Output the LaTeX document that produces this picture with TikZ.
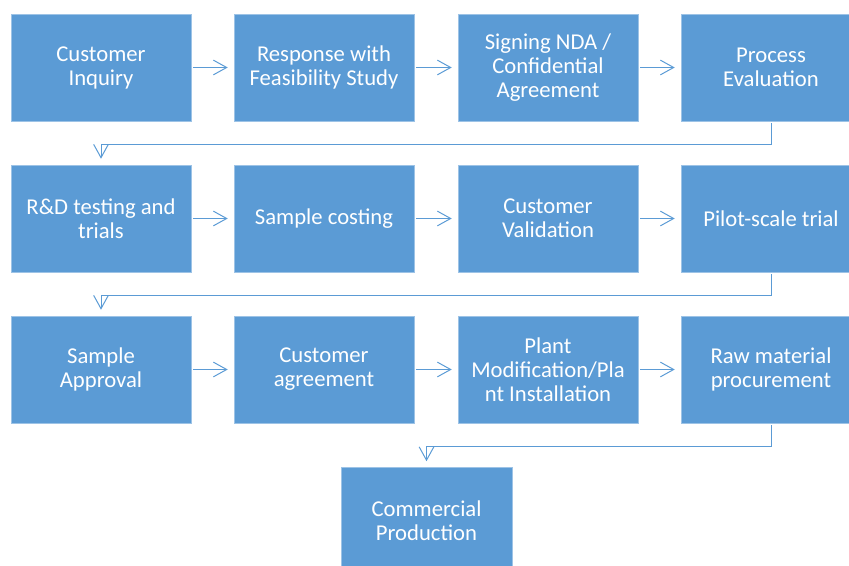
\documentclass[tikz,border=0pt]{standalone}
\usepackage{fontspec}
\setmainfont{Carlito}
\usetikzlibrary{arrows.meta}
\definecolor{boxblue}{HTML}{5B9BD5}
\definecolor{edgeblue}{HTML}{9DC3E6}
\begin{document}
\begin{tikzpicture}[x=0.75pt,y=-0.75pt,
  stepbox/.style={rectangle, fill=boxblue, draw=edgeblue, line width=0.4pt,
    minimum width=135pt, minimum height=80.25pt, inner sep=0pt,
    text=white, align=center, font=\fontsize{17}{18}\selectfont},
  arr/.style={draw=boxblue, line width=0.75pt,
    -{Straight Barb[length=10pt,width=11pt,line width=0.75pt]},
    shorten <=1.5pt, shorten >=4.5pt}]
\useasboundingbox (0,0) rectangle (849,566);
\clip (0,0) rectangle (849,566);
% row 1
\node[stepbox] (a1) at (101,67.5) {Customer\\Inquiry};
\node[stepbox] (a2) at (324,67.5) {Response with\\Feasibility Study};
\node[stepbox] (a3) at (548,67.5) {Signing NDA /\\Confidential\\Agreement};
\node[stepbox] (a4) at (771,67.5) {Process\\Evaluation};
% row 2
\node[stepbox] (b1) at (101,218.5) {R\&D testing and\\trials};
\node[stepbox] (b2) at (324,218.5) {Sample costing};
\node[stepbox] (b3) at (548,218.5) {Customer\\Validation};
\node[stepbox] (b4) at (771,218.5) {Pilot-scale trial};
% row 3
\node[stepbox] (c1) at (101,369.5) {Sample\\Approval};
\node[stepbox] (c2) at (324,369.5) {Customer\\agreement};
\node[stepbox] (c3) at (548,369.5) {Plant\\Modification/Pla\\nt Installation};
\node[stepbox] (c4) at (771,369.5) {Raw material\\procurement};
% row 4
\node[stepbox, minimum width=128.25pt] (d1) at (426.5,521) {Commercial\\Production};
% connectors
\draw[arr] (a1) -- (a2);
\draw[arr] (a2) -- (a3);
\draw[arr] (a3) -- (a4);
\draw[arr] (a4.south) -- ++(0,23) -| (b1.north);
\draw[arr] (b1) -- (b2);
\draw[arr] (b2) -- (b3);
\draw[arr] (b3) -- (b4);
\draw[arr] (b4.south) -- ++(0,23) -| (c1.north);
\draw[arr] (c1) -- (c2);
\draw[arr] (c2) -- (c3);
\draw[arr] (c3) -- (c4);
\draw[arr] (c4.south) -- ++(0,23) -| (d1.north);
\end{tikzpicture}
\end{document}
